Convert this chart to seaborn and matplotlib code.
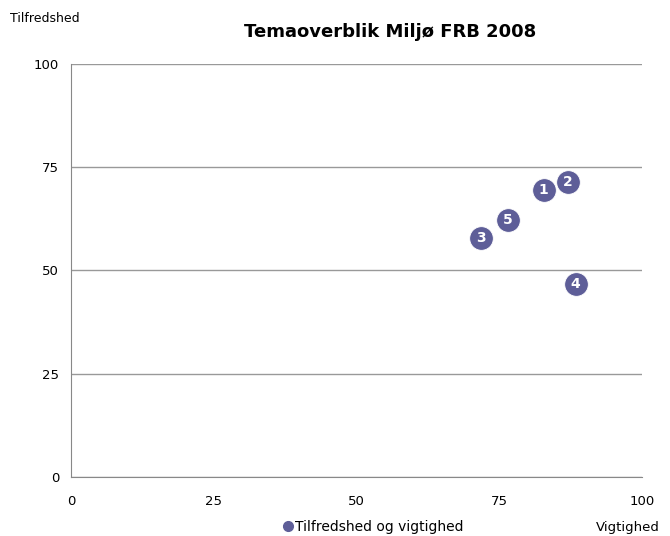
import seaborn as sns
import pandas as pd
import matplotlib.pyplot as plt

# data
labels = ['1', '2', '3', '4', '5']
vigtighed = [82.8, 87.0, 71.8, 88.4, 76.5]
tilfredshed = [69.5, 71.4, 57.9, 46.7, 62.2]

df = pd.DataFrame({'nr': labels, 'Vigtighed': vigtighed, 'Tilfredshed': tilfredshed})

sns.set_style('white')
plt.rcParams['font.family'] = ['DejaVu Sans']
plt.rcParams['text.color'] = 'black'
plt.rcParams['xtick.color'] = 'black'
plt.rcParams['ytick.color'] = 'black'

fig = plt.figure(figsize=(6.7, 5.36), dpi=100)
ax = fig.add_axes([0.106, 0.110, 0.852, 0.771])

farve = '#5e5e98'
sns.scatterplot(data=df, x='Vigtighed', y='Tilfredshed', ax=ax, s=290,
                color=farve, edgecolor='white', linewidth=0.6, zorder=3,
                legend=False)

for _, r in df.iterrows():
    ax.text(r['Vigtighed'], r['Tilfredshed'], r['nr'], color='white',
            fontsize=10, fontweight='bold', ha='center', va='center', zorder=4)

ax.set_xlim(0, 100)
ax.set_ylim(0, 100)
ax.set_xticks([0, 25, 50, 75, 100])
ax.set_yticks([0, 25, 50, 75, 100])
ax.tick_params(axis='both', labelsize=9.5, length=5, color='#888888', direction='out')
ax.tick_params(axis='x', pad=8)
ax.yaxis.grid(True, color='#999999', linewidth=1)
ax.set_axisbelow(True)
for s in ['top', 'right']:
    ax.spines[s].set_visible(False)
for s in ['left', 'bottom']:
    ax.spines[s].set_color('#888888')
ax.set_xlabel('')
ax.set_ylabel('')

fig.text(0.582, 0.94, 'Temaoverblik Miljø FRB 2008', ha='center', va='center',
         fontsize=13, fontweight='bold')
fig.text(0.015, 0.965, 'Tilfredshed', ha='left', va='center', fontsize=9)
fig.text(0.985, 0.015, 'Vigtighed', ha='right', va='center', fontsize=9.5)

ax.legend(handles=[plt.Line2D([], [], marker='o', linestyle='', color=farve,
                              markersize=7, label='Tilfredshed og vigtighed')],
          loc='center', bbox_to_anchor=(0.555, 0.017), bbox_transform=fig.transFigure,
          frameon=False, fontsize=10, handletextpad=-0.1, handlelength=1.2)

fig.savefig('out.png', dpi=100)
